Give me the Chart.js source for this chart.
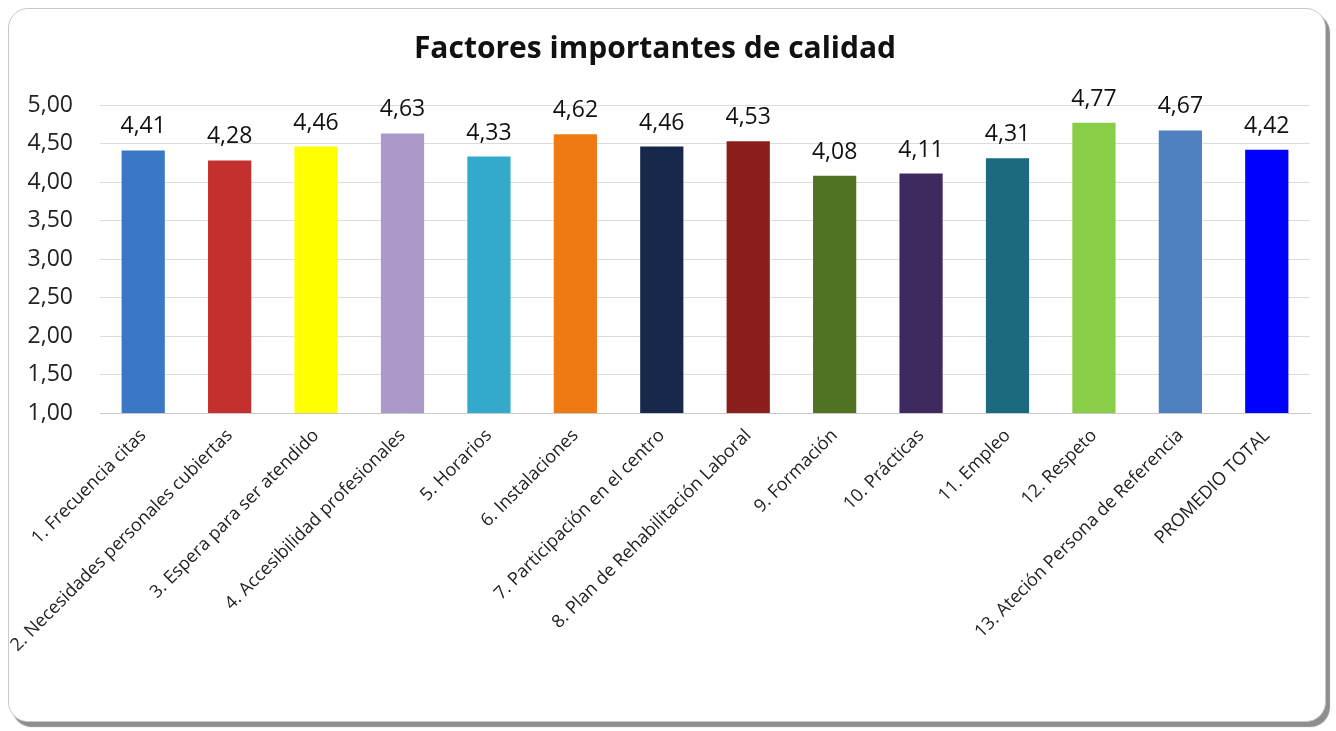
<!DOCTYPE html>
<html>
<head>
<meta charset="utf-8">
<script src="https://cdn.jsdelivr.net/npm/chart.js@4"></script>
<style>
  body { margin: 0; background: #fff; }
  #marco {
    position: absolute; left: 8px; top: 8px; width: 1316px; height: 712px;
    border: 1px solid #c9c9c9; border-radius: 20px;
    box-shadow: 4px 5px 1px #8e8e8e; background: #fff;
  }
  #grafico { position: absolute; left: 0; top: 0; }
</style>
</head>
<body>
<div id="marco"></div>
<canvas id="grafico" width="1336" height="731"></canvas>
<script>
// Factores de calidad
var categorias = ['1. Frecuencia citas', '2. Necesidades personales cubiertas', '3. Espera para ser atendido',
  '4. Accesibilidad profesionales', '5. Horarios', '6. Instalaciones', '7. Participación en el centro',
  '8. Plan de Rehabilitación Laboral', '9. Formación', '10. Prácticas', '11. Empleo', '12. Respeto',
  '13. Ateción Persona de Referencia', 'PROMEDIO TOTAL'];
var valores = [4.41, 4.28, 4.46, 4.63, 4.33, 4.62, 4.46, 4.53, 4.08, 4.11, 4.31, 4.77, 4.67, 4.42];
var colores = ['#3a78c6', '#c4302e', '#ffff00', '#ab9ac8', '#33a9cc', '#f07a12', '#17284a',
  '#8c1d1d', '#4f7321', '#3e2a5e', '#1b6a80', '#8acd47', '#4f80c0', '#0000ff'];

function coma(v) { return v.toFixed(2).replace('.', ','); }

var etiquetas = {
  id: 'etiquetas',
  afterDatasetsDraw: function (chart) {
    var c = chart.ctx;
    c.save();
    c.font = '23px "Open Sans"';
    c.fillStyle = '#111';
    c.textAlign = 'center';
    c.textBaseline = 'alphabetic';
    chart.getDatasetMeta(0).data.forEach(function (bar, i) {
      c.fillText(coma(valores[i]), bar.x, bar.y - 17);
    });
    c.restore();
  }
};

var ctx = document.getElementById('grafico');
var myChart = new Chart(ctx, {
  type: 'bar',
  data: {
    labels: categorias,
    datasets: [{
      data: valores,
      backgroundColor: colores,
      barPercentage: 0.5,
      categoryPercentage: 1
    }]
  },
  options: {
    responsive: false,
    animation: false,
    layout: { padding: { top: 23, right: 26, left: 0, bottom: 0 } },
    plugins: {
      legend: { display: false },
      tooltip: { enabled: false },
      title: {
        display: true,
        text: 'Factores importantes de calidad',
        color: '#111',
        font: { family: 'Open Sans', size: 30, weight: 'bold' },
        padding: { top: 8, bottom: 38 }
      }
    },
    scales: {
      y: {
        min: 1, max: 5,
        ticks: {
          stepSize: 0.5,
          color: '#222',
          padding: 27,
          font: { family: 'Open Sans', size: 23 },
          callback: function (v) { return coma(v); }
        },
        grid: { color: '#dcdcdc', drawTicks: false },
        border: { display: false },
        afterFit: function (s) { s.width = 100; }
      },
      x: {
        ticks: {
          minRotation: 45, maxRotation: 45,
          color: '#222',
          padding: 12,
          autoSkip: false,
          font: { family: 'Open Sans', size: 18 }
        },
        grid: { display: false, drawTicks: false },
        border: { color: '#c8c8c8' },
        afterFit: function (s) { s.height = 731 - 413; }
      }
    }
  },
  plugins: [etiquetas]
});
</script>
</body>
</html>
